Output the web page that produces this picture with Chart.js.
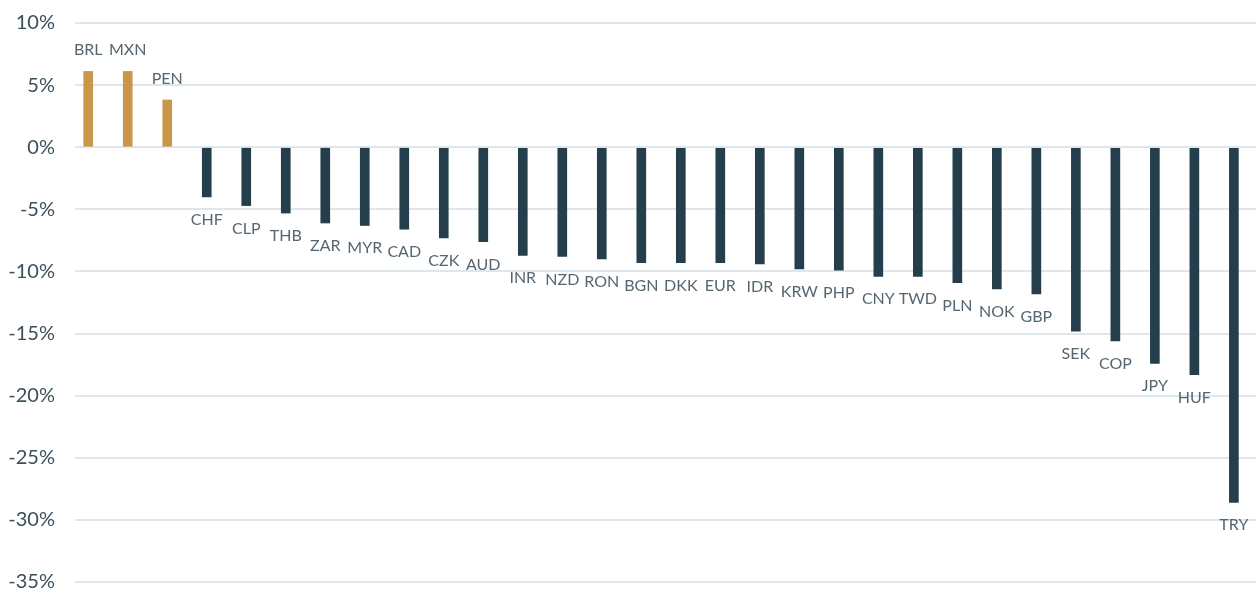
<!DOCTYPE html>
<html>
<head>
<meta charset="utf-8">
<script src="https://cdn.jsdelivr.net/npm/chart.js@4.4.1/dist/chart.umd.min.js"></script>
<style>
    body { margin: 0; background: #ffffff; }
    #wrap { width: 1256px; height: 590px; }
</style>
</head>
<body>
<div id="wrap"><canvas id="fxChart" width="1256" height="590"></canvas></div>
<script>
// Data
const currencies = ['BRL', 'MXN', 'PEN', 'CHF', 'CLP', 'THB', 'ZAR', 'MYR', 'CAD', 'CZK',
    'AUD', 'INR', 'NZD', 'RON', 'BGN', 'DKK', 'EUR', 'IDR', 'KRW', 'PHP',
    'CNY', 'TWD', 'PLN', 'NOK', 'GBP', 'SEK', 'COP', 'JPY', 'HUF', 'TRY'];
const changePct = [6.1, 6.1, 3.8, -4.0, -4.7, -5.3, -6.1, -6.3, -6.6, -7.3,
    -7.6, -8.7, -8.8, -9.0, -9.3, -9.3, -9.3, -9.4, -9.8, -9.9,
    -10.4, -10.4, -10.9, -11.4, -11.8, -14.8, -15.6, -17.4, -18.3, -28.6];
const yTicks = [10, 5, 0, -5, -10, -15, -20, -25, -30, -35];

// Colours
const GOLD = '#c9964a';
const NAVY = '#243f4b';

// Currency code above / below each bar
const barLabels = {
    id: 'barLabels',
    afterDatasetsDraw(chart) {
        const ctx = chart.ctx;
        const meta = chart.getDatasetMeta(0);
        ctx.save();
        ctx.font = '16px Lato';
        ctx.fillStyle = '#55666f';
        ctx.textAlign = 'center';
        ctx.textBaseline = 'alphabetic';
        meta.data.forEach((bar, i) => {
            const v = changePct[i];
            const y = v >= 0 ? bar.y - 16 : bar.y + 28;
            ctx.fillText(currencies[i], bar.x, y);
        });
        ctx.restore();
    }
};

const ctx = document.getElementById('fxChart').getContext('2d');
new Chart(ctx, {
    type: 'bar',
    data: {
        datasets: [{
            data: changePct.map((v, i) => ({ x: i, y: v })),
            backgroundColor: changePct.map(v => v >= 0 ? GOLD : NAVY),
            barThickness: 9,
            borderWidth: 0
        }]
    },
    options: {
        responsive: false,
        animation: false,
        layout: { padding: { top: 23, bottom: 8, left: 0, right: 0 } },
        plugins: {
            legend: { display: false },
            tooltip: { enabled: false }
        },
        scales: {
            x: {
                type: 'linear',
                display: false,
                offset: false,
                min: -0.335,
                max: 29.56
            },
            y: {
                min: -35,
                max: 10,
                afterBuildTicks: axis => { axis.ticks = yTicks.map(v => ({ value: v })); },
                afterFit: axis => { axis.width = 75; },
                border: { display: false },
                grid: {
                    color: '#dde7ed',
                    lineWidth: 2,
                    drawTicks: true,
                    tickLength: 20,
                    tickColor: 'rgba(0,0,0,0)'
                },
                ticks: {
                    padding: 0,
                    color: '#3b4f5a',
                    font: { family: 'Lato', size: 20, lineHeight: 0.8 },
                    callback: v => v + '%'
                }
            }
        }
    },
    plugins: [barLabels]
});
</script>
</body>
</html>
